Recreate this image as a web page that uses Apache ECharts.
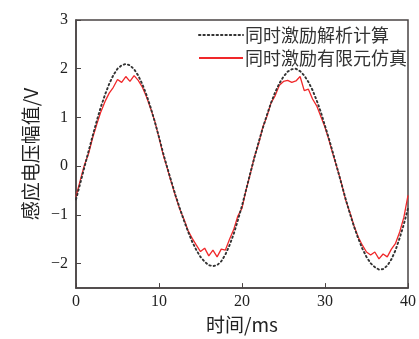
<!DOCTYPE html>
<html>
<head>
<meta charset="utf-8">
<script src="https://cdn.jsdelivr.net/npm/echarts@6/dist/echarts.min.js"></script>
<style>
    html, body { margin: 0; padding: 0; background: #fff; }
    #chart { width: 419px; height: 339px; }
</style>
</head>
<body>
<div id="chart"></div>
<script>
const seriesNames = ['同时激励解析计算', '同时激励有限元仿真'];
const yTicks = [-2, -1, 0, 1, 2, 3];

// time, ms (0.5 ms step)
const timeMs = [
    0, 0.5, 1, 1.5, 2, 2.5, 3, 3.5, 4, 4.5, 5, 5.5, 6, 6.5, 7, 7.5, 8, 8.5, 9, 9.5,
    10, 10.5, 11, 11.5, 12, 12.5, 13, 13.5, 14, 14.5, 15, 15.5, 16, 16.5, 17, 17.5, 18, 18.5, 19, 19.5,
    20, 20.5, 21, 21.5, 22, 22.5, 23, 23.5, 24, 24.5, 25, 25.5, 26, 26.5, 27, 27.5, 28, 28.5, 29, 29.5,
    30, 30.5, 31, 31.5, 32, 32.5, 33, 33.5, 34, 34.5, 35, 35.5, 36, 36.5, 37, 37.5, 38, 38.5, 39, 39.5,
    40,
];
const analyticVolt = [
    -0.68, -0.36, -0.03, 0.30, 0.62, 0.93, 1.22, 1.47, 1.69, 1.87, 2.00, 2.07, 2.10, 2.07, 1.99, 1.86, 1.68, 1.46, 1.20, 0.91,
    0.60, 0.27, -0.03, -0.32, -0.60, -0.86, -1.11, -1.34, -1.55, -1.72, -1.86, -1.96, -2.03, -2.05, -2.03, -1.95, -1.81, -1.62, -1.39, -1.11,
    -0.81, -0.48, -0.14, 0.18, 0.49, 0.78, 1.05, 1.30, 1.52, 1.70, 1.84, 1.94, 1.99, 2.00, 1.95, 1.86, 1.73, 1.56, 1.35, 1.11,
    0.83, 0.55, 0.25, -0.06, -0.37, -0.68, -0.97, -1.24, -1.48, -1.69, -1.86, -1.99, -2.07, -2.12, -2.11, -2.04, -1.91, -1.72, -1.47, -1.19,
    -0.86,
];
const simVolt = [
    -0.62, -0.30, 0.02, 0.25, 0.58, 0.86, 1.12, 1.33, 1.50, 1.62, 1.78, 1.72, 1.84, 1.74, 1.86, 1.76, 1.62, 1.42, 1.18, 0.92,
    0.58, 0.24, -0.05, -0.34, -0.62, -0.88, -1.08, -1.32, -1.48, -1.62, -1.75, -1.68, -1.84, -1.72, -1.86, -1.70, -1.72, -1.50, -1.30, -1.02,
    -0.86, -0.48, -0.16, 0.20, 0.46, 0.80, 1.02, 1.30, 1.45, 1.66, 1.74, 1.76, 1.72, 1.75, 1.84, 1.55, 1.58, 1.38, 1.24, 1.02,
    0.80, 0.52, 0.22, -0.06, -0.36, -0.70, -0.95, -1.22, -1.45, -1.62, -1.76, -1.82, -1.76, -1.90, -1.80, -1.86, -1.70, -1.58, -1.35, -1.05,
    -0.60,
];

const serif = '"Liberation Serif", "Times New Roman", serif';
const cjk = '"Noto Sans CJK SC", sans-serif';
const axisColor = '#4a4444';

const pairs = vals => timeMs.map((t, i) => [t, vals[i]]);

const chart = echarts.init(document.getElementById('chart'), null, { renderer: 'canvas' });
chart.setOption({
    animation: false,
    backgroundColor: '#fff',
    grid: {
        left: 76,
        right: 6,
        top: 20,
        bottom: 47,
        show: true,
        borderColor: axisColor,
        borderWidth: 1.5,
    },
    legend: {
        left: 193,
        top: 21,
        orient: 'vertical',
        itemWidth: 44,
        itemHeight: 14,
        itemGap: 5,
        // line only, no marker in the legend
        itemStyle: { color: 'transparent', borderWidth: 0 },
        textStyle: { fontFamily: cjk, fontSize: 18, color: '#333', padding: [0, 0, 0, -3] },
        data: seriesNames,
    },
    xAxis: {
        type: 'value',
        min: 0,
        max: 40,
        interval: 10,
        name: '时间/ms',
        nameLocation: 'middle',
        nameGap: 26,
        nameTextStyle: { fontFamily: cjk, fontSize: 19, color: '#222' },
        axisLine: { onZero: false, lineStyle: { color: axisColor, width: 1.5 } },
        axisTick: { inside: true, length: 5, lineStyle: { color: axisColor } },
        axisLabel: { fontFamily: serif, fontSize: 16, color: '#222', margin: 6 },
        splitLine: { show: false },
    },
    yAxis: {
        type: 'value',
        min: -2.5,
        max: 3,
        name: '感应电压幅值/V',
        nameLocation: 'middle',
        nameGap: 31,
        nameTextStyle: { fontFamily: cjk, fontSize: 19, color: '#222' },
        axisLine: { show: true, onZero: false, lineStyle: { color: axisColor, width: 1.5 } },
        axisTick: { inside: true, length: 5, customValues: yTicks, lineStyle: { color: axisColor } },
        axisLabel: {
            fontFamily: serif,
            fontSize: 16,
            color: '#222',
            margin: 8,
            customValues: yTicks,
            formatter: v => String(v).replace('-', '\u2212'),
        },
        splitLine: { show: false },
    },
    series: [
        {
            name: seriesNames[0],
            type: 'line',
            data: pairs(analyticVolt),
            symbol: 'none',
            z: 3,
            lineStyle: { color: '#333', width: 1.9, type: [1.4, 3], cap: 'round' },
        },
        {
            name: seriesNames[1],
            type: 'line',
            data: pairs(simVolt),
            symbol: 'none',
            z: 2,
            lineStyle: { color: '#f0282a', width: 1.3 },
        },
    ],
});
</script>
</body>
</html>
